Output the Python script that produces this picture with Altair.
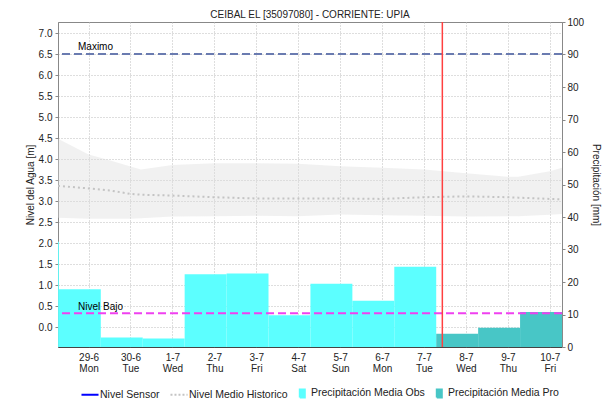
import altair as alt
import pandas as pd

FONT = "Liberation Sans"

# ---------------- data ----------------
# daily precipitation (mm); each bar closes at 07:00 of the given day
precip_fechas = ["2020-06-28", "2020-06-29", "2020-06-30", "2020-07-01", "2020-07-02",
                 "2020-07-03", "2020-07-04", "2020-07-05", "2020-07-06", "2020-07-07",
                 "2020-07-08", "2020-07-09", "2020-07-10"]
precip_mm = [32.4, 17.8, 2.9, 2.6, 22.4, 22.6, 9.8, 19.5, 14.2, 24.7, 4.1, 5.9, 10.8]
precip_tipo = ["Obs"] * 10 + ["Pro"] * 3

# historical level band and mean (m)
hist_tiempos = ["2020-06-28T06:30", "2020-06-29T00:00", "2020-06-29T12:00", "2020-06-30T00:00",
                "2020-06-30T06:00", "2020-07-01T00:00", "2020-07-02T00:00", "2020-07-03T00:00",
                "2020-07-04T00:00", "2020-07-05T00:00", "2020-07-06T00:00", "2020-07-07T00:00",
                "2020-07-08T00:00", "2020-07-09T00:00", "2020-07-09T06:00", "2020-07-10T00:00",
                "2020-07-10T07:00"]
hist_max = [4.48, 4.11, 3.97, 3.82, 3.75, 3.86, 3.90, 3.90, 3.89, 3.83, 3.79, 3.75,
            3.66, 3.58, 3.58, 3.71, 3.79]
hist_min = [2.60, 2.58, 2.58, 2.58, 2.59, 2.63, 2.64, 2.65, 2.64, 2.68, 2.66, 2.65,
            2.63, 2.64, 2.64, 2.67, 2.69]
hist_medio = [3.36, 3.30, 3.25, 3.17, 3.15, 3.13, 3.09, 3.06, 3.06, 3.06, 3.05, 3.09,
              3.11, 3.09, 3.08, 3.05, 3.04]

nivel_maximo = 6.5
nivel_bajo = 0.33
ahora = "2020-07-07T10:30"

tick_fechas = ["2020-06-29", "2020-06-30", "2020-07-01", "2020-07-02", "2020-07-03", "2020-07-04",
               "2020-07-05", "2020-07-06", "2020-07-07", "2020-07-08", "2020-07-09", "2020-07-10"]
y_left_ticks = [0.0, 0.5, 1.0, 1.5, 2.0, 2.5, 3.0, 3.5, 4.0, 4.5, 5.0, 5.5, 6.0, 6.5, 7.0]
y_right_ticks = [0, 10, 20, 30, 40, 50, 60, 70, 80, 90, 100]

series = ["Nivel Sensor", "Nivel Medio Historico", "Precipitación Media Obs", "Precipitación Media Pro"]
serie_fill = ["transparent", "transparent", "#5cffff", "#48c6c6"]
serie_stroke = ["#0000ff", "#c4c4c4", "#5cffff", "#48c6c6"]
serie_shape = ["M-1.42,0H1.42", "M-1.42,0H1.42",
               "M-0.2,-0.667H0.633V0.667H-0.2Z", "M-0.2,-0.667H0.633V0.667H-0.2Z"]
serie_dash = [[1, 0], [2, 2], [1, 0], [1, 0]]

# ---------------- tables ----------------
fin = pd.to_datetime(precip_fechas) + pd.Timedelta(hours=7)
ini = fin - pd.Timedelta(days=1)
bars = pd.DataFrame({
    "inicio": ini.strftime("%Y-%m-%dT%H:%M:%SZ"),
    "fin": fin.strftime("%Y-%m-%dT%H:%M:%SZ"),
    "mm": precip_mm,
    "tipo": precip_tipo,
})
hist = pd.DataFrame({
    "t": [s + ":00Z" for s in hist_tiempos],
    "max": hist_max, "min": hist_min, "medio": hist_medio,
})
umbral_max = pd.DataFrame({"valor": [nivel_maximo], "etiqueta": ["Maximo"]})
umbral_bajo = pd.DataFrame({"valor": [nivel_bajo], "etiqueta": ["Nivel Bajo"]})
ahora_df = pd.DataFrame({"t": [ahora + ":00Z"]})
leyenda = pd.DataFrame({"serie": series})


def dt(s):
    d = pd.Timestamp(s)
    return alt.DateTime(year=d.year, month=d.month, date=d.day, hours=d.hour,
                        minutes=d.minute, utc=True)


xscale = alt.Scale(type="utc", domain=[dt("2020-06-28T06:30"), dt("2020-07-10T07:00")])
xaxis = alt.Axis(values=[dt(s) for s in tick_fechas], title=None, grid=True, ticks=False,
                 labelPadding=5, labelLineHeight=11, labelOverlap=False, labelFlush=False,
                 domainDash=[1, 1], domainColor="#000000",
                 labelExpr="[utcFormat(datum.value, '%-d-%-m'), utcFormat(datum.value, '%a')]")

yl_scale = alt.Scale(domain=[-0.476, 7.262], nice=False, zero=False)
yl_axis = alt.Axis(orient="left", values=y_left_ticks, format=".1f", tickSize=3, labelPadding=3,
                   titlePadding=3, grid=True, title="Nivel del Agua [m]")
yr_scale = alt.Scale(domain=[0, 100], nice=False, zero=False)
yr_axis = alt.Axis(orient="right", values=y_right_ticks, tickSize=3, labelPadding=2,
                   titlePadding=7, grid=False, title="Precipitación [mm]")

# ---------------- right axis group: bars ----------------
barras = alt.Chart(bars).mark_rect(clip=True).encode(
    x=alt.X("inicio:T", scale=xscale, axis=xaxis),
    x2="fin:T",
    y=alt.Y("mm:Q", scale=yr_scale, axis=yr_axis),
    y2=alt.datum(0),
    color=alt.condition("datum.tipo == 'Obs'", alt.value("#5cffff"), alt.value("#48c6c6")),
)

# ---------------- left axis group ----------------
banda = alt.Chart(hist).mark_area(color="#dcdcdc", opacity=0.4, clip=True).encode(
    x=alt.X("t:T", scale=xscale, axis=xaxis),
    y=alt.Y("max:Q", scale=yl_scale, axis=yl_axis),
    y2="min:Q",
)
medio = alt.Chart(hist).mark_line(color="#c4c4c4", strokeWidth=2, strokeDash=[2, 3], clip=True).encode(
    x=alt.X("t:T", scale=xscale, axis=xaxis),
    y=alt.Y("medio:Q", scale=yl_scale, axis=yl_axis),
)
r_max = alt.Chart(umbral_max).mark_rule(color="#6a7bb0", strokeWidth=2, strokeDash=[8, 4]).encode(
    y=alt.Y("valor:Q", scale=yl_scale, axis=yl_axis),
)
r_bajo = alt.Chart(umbral_bajo).mark_rule(color="#f040f0", strokeWidth=2, strokeDash=[8, 4]).encode(
    y=alt.Y("valor:Q", scale=yl_scale, axis=yl_axis),
)
t_max = alt.Chart(umbral_max).mark_text(align="left", baseline="bottom", dy=-2, font=FONT,
                                        fontSize=10, color="#000000").encode(
    x=alt.value(20),
    y=alt.Y("valor:Q", scale=yl_scale, axis=yl_axis),
    text="etiqueta:N",
)
t_bajo = alt.Chart(umbral_bajo).mark_text(align="left", baseline="bottom", dy=-1, font=FONT,
                                          fontSize=10, color="#000000").encode(
    x=alt.value(20),
    y=alt.Y("valor:Q", scale=yl_scale, axis=yl_axis),
    text="etiqueta:N",
)
linea_ahora = alt.Chart(ahora_df).mark_rule(color="#ff4040", strokeWidth=1.5).encode(
    x=alt.X("t:T", scale=xscale, axis=xaxis),
)

leg = alt.Legend(orient="none", legendX=25, legendY=364, direction="horizontal", title=None,
                 symbolSize=144, symbolStrokeWidth=2, labelFontSize=10.5, labelFont=FONT,
                 labelColor="#222222", labelOffset=3, columnPadding=6, labelLimit=300)
leyenda_l = alt.Chart(leyenda).mark_point(filled=True, opacity=1).transform_filter("false").encode(
    fill=alt.Fill("serie:N", scale=alt.Scale(domain=series, range=serie_fill), legend=leg),
    stroke=alt.Stroke("serie:N", scale=alt.Scale(domain=series, range=serie_stroke), legend=leg),
    shape=alt.Shape("serie:N", scale=alt.Scale(domain=series, range=serie_shape), legend=leg),
    strokeDash=alt.StrokeDash("serie:N", scale=alt.Scale(domain=series, range=serie_dash), legend=leg),
)

izquierda = alt.layer(banda, medio, r_max, r_bajo, t_max, t_bajo, linea_ahora, leyenda_l)

chart = alt.layer(barras, izquierda).resolve_scale(y="independent").properties(
    width=504,
    height=325,
    autosize=alt.AutoSizeParams(type="none"),
    padding={"left": 50, "top": 14, "right": 45, "bottom": 54},
    title=alt.Title("CEIBAL EL [35097080] - CORRIENTE: UPIA", fontSize=10, font=FONT,
                    fontWeight="normal", color="#222222", offset=1, dy=4),
).configure_view(stroke="#888888", strokeWidth=1).configure_axis(
    labelFont=FONT, labelFontSize=10, labelColor="#222222",
    titleFont=FONT, titleFontSize=10, titleFontWeight="normal", titleColor="#222222",
    gridDash=[1, 2], gridColor="#bdbdbd", gridOpacity=1,
    domainColor="#888888", tickColor="#888888",
)

chart.save("out.html", embed_options={"renderer": "svg", "actions": False})
